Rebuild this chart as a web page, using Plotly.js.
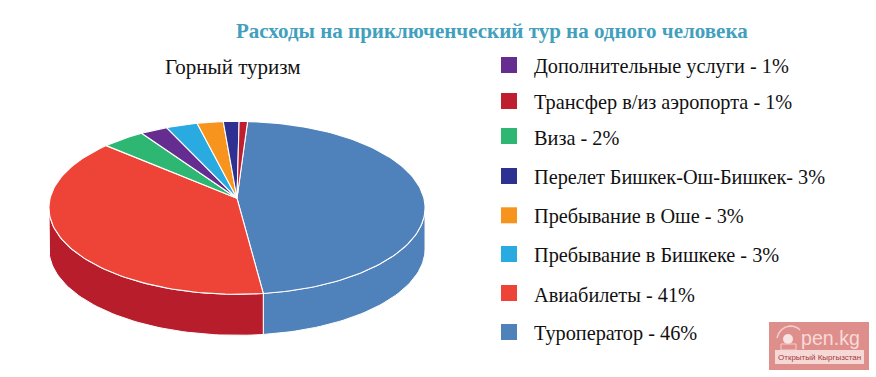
<!DOCTYPE html>
<html lang="ru">
<head>
<meta charset="utf-8">
<script src="https://cdn.plot.ly/plotly-3.0.1.min.js"></script>
<style>html,body{margin:0;padding:0;background:#fff;overflow:hidden}#chart{width:876px;height:377px}</style>
</head>
<body>
<div id="chart"></div>
<script>
// Data: legend names, printed labels and the slice shares as they appear on the drawing.
const categories = ["Туроператор","Авиабилеты","Виза","Дополнительные услуги","Пребывание в Бишкеке","Пребывание в Оше","Перелет Бишкек-Ош-Бишкек","Трансфер в/из аэропорта"];
const drawnShares = [47, 38.5, 4.1, 2.6, 3, 2.5, 1.5, 0.8];
const legendLabels = ["Дополнительные услуги - 1%","Трансфер в/из аэропорта - 1%","Виза - 2%","Перелет Бишкек-Ош-Бишкек- 3%","Пребывание в Оше - 3%","Пребывание в Бишкеке - 3%","Авиабилеты - 41%","Туроператор - 46%"];
const titleText = "Расходы на приключенческий тур на одного человека";
const subtitleText = "Горный туризм";

// Styles
const topColors  = ["#4F81BA","#EE4337","#2EB673","#662D91","#29ABE2","#F7941D","#2E3192","#BE1E2D"];
const sideColors = ["#4F81BA","#B81D2C","#1F8A55","#4B1F6E","#1C80AB","#BA6F15","#20246E","#8E1621"];
const legendColors = ["#662D91","#BE1E2D","#2EB673","#2E3192","#F7941D","#29ABE2","#EE4337","#4F81BA"];
const legendRowsPx = [65,101,136,176,215.3,254,293,332];

// Projection of the tilted disc onto the page
const apex = {x:237, y:198.3}, a = 186.9, b = 85.46, k = 0.11, depth = 41, startDeg = 3.6;
function rim(deg, drop){
  const t = deg*Math.PI/180, u = Math.sin(t), v = Math.cos(t), w = 1 + k*v;
  return [apex.x + a*u/w, apex.y - b*v/w + (drop||0)];
}
function arc(from, to, drop){
  const n = Math.max(2, Math.ceil(Math.abs(to-from)/1.5)), pts = [];
  for(let i=0;i<=n;i++) pts.push(rim(from+(to-from)*i/n, drop));
  return pts;
}
function poly(pts, color, name, lw){
  return {type:"scatter", mode:"lines", x:pts.map(p=>p[0]), y:pts.map(p=>p[1]), fill:"toself",
    fillcolor:color, line:{color:"#ffffff", width:lw}, name:name, hoverinfo:"name", showlegend:false};
}
const total = drawnShares.reduce((s,v)=>s+v,0);
const frontFrom = Math.acos(-k)*180/Math.PI, frontTo = 360-frontFrom;
const sideTraces = [], topTraces = [];
let ang = startDeg;
drawnShares.forEach((val,i)=>{
  const next = ang + val/total*360;
  const f = Math.max(ang, frontFrom), t = Math.min(next, frontTo);
  if(t>f){
    const pts = arc(f,t,0).concat(arc(t,f,depth)); pts.push(pts[0]);
    sideTraces.push(poly(pts, sideColors[i], categories[i], 1));
  }
  const wedge = [[apex.x,apex.y]].concat(arc(ang,next,0)); wedge.push([apex.x,apex.y]);
  topTraces.push(poly(wedge, topColors[i], categories[i], 1.1));
  ang = next;
});

const legendMarks = {type:"scatter", mode:"markers", x:legendRowsPx.map(()=>509), y:legendRowsPx,
  marker:{symbol:"square", size:16, color:legendColors, line:{width:0}}, hoverinfo:"skip", showlegend:false};

const serif = "Liberation Serif, DejaVu Serif, serif";
const sans = "Liberation Sans, Arial, sans-serif";
function note(text,x,y,size,color,anchor,family,bold){
  return {text: bold?"<b>"+text+"</b>":text, x:x, y:y, xref:"x", yref:"y", xanchor:anchor||"left", yanchor:"middle",
    showarrow:false, font:{family:family||serif, size:size, color:color}};
}
const annotations = [
  note(titleText,491.5,30.5,21,"#429FBD","center",serif,true),
  note(subtitleText,233,67,21,"#111111","center")
].concat(legendLabels.map((t,i)=>note(t,531.5,legendRowsPx[i]+1.5,20.3,"#111111")))
 .concat([
  note("pen.kg",799,338,19.6,"#F6DAD8","left",sans),
  note("Открытый Кыргызстан",819.5,357,8,"#A33A36","center",sans)
 ]);

const shapes = [
  {type:"rect",x0:769,x1:869,y0:322,y1:370,fillcolor:"#DF8F8B",line:{width:0},layer:"above"},
  {type:"rect",x0:775,x1:864,y0:350,y1:364,fillcolor:"#F6D9D7",line:{width:0},layer:"above"},
  {type:"circle",x0:783,x1:793,y0:334,y1:344,fillcolor:"#F8E4E2",line:{width:0},layer:"above"},
  {type:"path",path:"M 777 338 Q 780 327 790 326 Q 796 326 800 330",line:{color:"#F3CFCD",width:1.5},layer:"above"},
  {type:"rect",x0:781,x1:796,y0:344,y1:350,fillcolor:"rgba(0,0,0,0)",line:{color:"#F3CFCD",width:1},layer:"above"}
];

const layout = {
  width:876, height:377, margin:{l:0,r:0,t:0,b:0}, paper_bgcolor:"#fff", plot_bgcolor:"#fff",
  xaxis:{range:[0,876],visible:false,fixedrange:true},
  yaxis:{range:[377,0],visible:false,fixedrange:true},
  showlegend:false, annotations:annotations, shapes:shapes, hovermode:"closest"
};
Plotly.newPlot("chart", sideTraces.concat(topTraces,[legendMarks]), layout, {displayModeBar:false, staticPlot:false});
</script>
</body>
</html>
